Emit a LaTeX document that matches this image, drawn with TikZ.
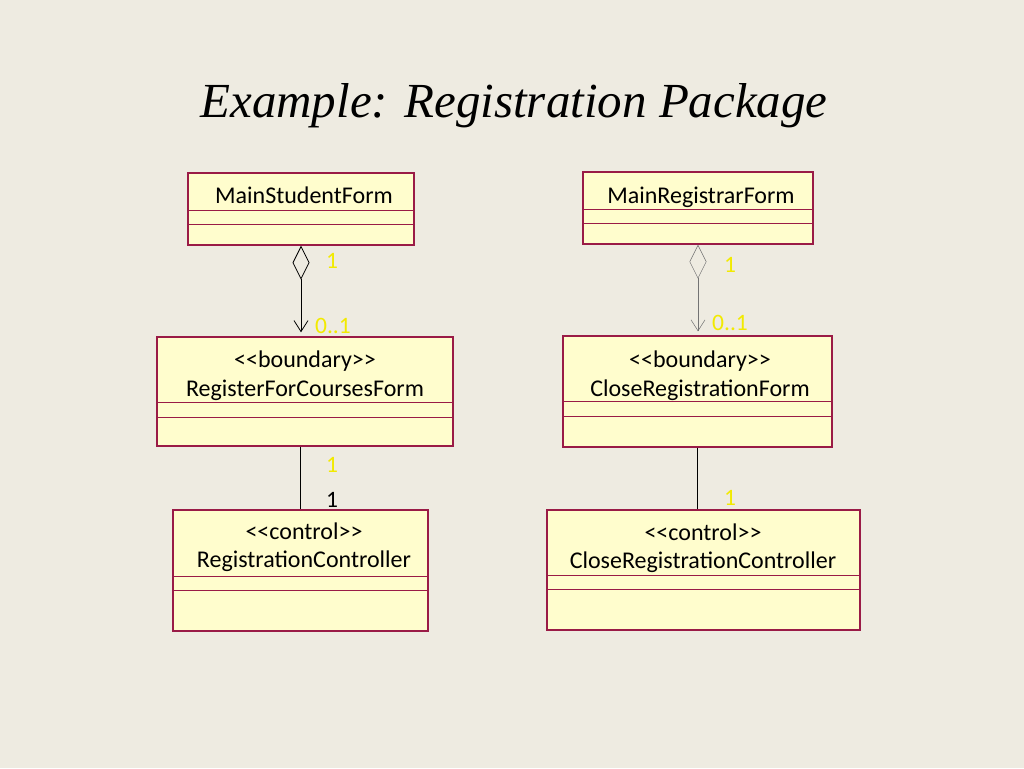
\documentclass[tikz,border=0pt]{standalone}
\usepackage{fontspec}
\newfontfamily\umlfont{Carlito}
\newfontfamily\titlefont{Liberation Serif}
\usepackage{tikz}
\usetikzlibrary{arrows.meta, positioning, calc}

\definecolor{bgpaper}{HTML}{EEEBE1}
\definecolor{boxfill}{HTML}{FFFDCD}
\definecolor{boxline}{HTML}{9A1B46}
\definecolor{multcol}{HTML}{F2EA00}

\tikzset{
  umlclass/.style={draw=boxline, fill=boxfill, line width=1.4pt, inner sep=0pt},
  divider/.style={boxline, line width=1.4pt},
  classname/.style={font=\umlfont\fontsize{24}{29}\selectfont, align=center, inner sep=0pt},
  mult/.style={font=\umlfont\fontsize{23.5}{26}\selectfont, text=multcol, inner sep=0pt},
  multdark/.style={font=\umlfont\fontsize{23.5}{26}\selectfont, text=black, inner sep=0pt},
  aggr/.style={line width=0.8pt, {Diamond[open, length=34pt, width=17pt]}-{Straight Barb[length=11pt, width=14pt]}, shorten >=4pt},
  assoc/.style={line width=0.9pt}
}

\begin{document}
\begin{tikzpicture}[x=1pt, y=-1pt]
            % Background
            \fill[bgpaper] (0,0) rectangle (1024,768);
            
            % Title
            \node[font=\titlefont\itshape\fontsize{49}{56}\selectfont] (title) at (514,106) {Example: Registration Package};
            
            % Left column classes
            \node[umlclass, minimum width=226pt, minimum height=72pt] (msf) at (301,209) {};
            \draw[divider] ([yshift=-38pt]msf.north west) -- ([yshift=-38pt]msf.north east);
            \draw[divider] ([yshift=-52pt]msf.north west) -- ([yshift=-52pt]msf.north east);
            \node[classname] (msf name) at (304,195) {MainStudentForm};
            
            \node[umlclass, minimum width=296pt, minimum height=109pt] (rfc) at (305,391.5) {};
            \draw[divider] ([yshift=-66pt]rfc.north west) -- ([yshift=-66pt]rfc.north east);
            \draw[divider] ([yshift=-81pt]rfc.north west) -- ([yshift=-81pt]rfc.north east);
            \node[classname] (rfc name) at (305,375.5) {<<boundary>>\\RegisterForCoursesForm};
            
            \node[umlclass, minimum width=255pt, minimum height=121pt] (rc) at (300.5,570.5) {};
            \draw[divider] ([yshift=-67pt]rc.north west) -- ([yshift=-67pt]rc.north east);
            \draw[divider] ([yshift=-81pt]rc.north west) -- ([yshift=-81pt]rc.north east);
            \node[classname, font=\umlfont\fontsize{24}{28}\selectfont] (rc name) at (304,547) {<<control>>\\RegistrationController};
            
            % Right column classes
            \node[umlclass, minimum width=230pt, minimum height=72pt] (mrf) at (698,208) {};
            \draw[divider] ([yshift=-38pt]mrf.north west) -- ([yshift=-38pt]mrf.north east);
            \draw[divider] ([yshift=-52pt]mrf.north west) -- ([yshift=-52pt]mrf.north east);
            \node[classname] (mrf name) at (701,197) {MainRegistrarForm};
            
            \node[umlclass, minimum width=269pt, minimum height=111pt] (crf) at (697.5,391.5) {};
            \draw[divider] ([yshift=-66pt]crf.north west) -- ([yshift=-66pt]crf.north east);
            \draw[divider] ([yshift=-81pt]crf.north west) -- ([yshift=-81pt]crf.north east);
            \node[classname] (crf name) at (700,376) {<<boundary>>\\CloseRegistrationForm};
            
            \node[umlclass, minimum width=313pt, minimum height=120pt] (crc) at (703.5,570) {};
            \draw[divider] ([yshift=-66pt]crc.north west) -- ([yshift=-66pt]crc.north east);
            \draw[divider] ([yshift=-80pt]crc.north west) -- ([yshift=-80pt]crc.north east);
            \node[classname, font=\umlfont\fontsize{24}{28}\selectfont] (crc name) at (703,548) {<<control>>\\CloseRegistrationController};
            
            % Aggregations
            \draw[aggr, black] (msf.south) -- (msf.south |- rfc.north);
            \draw[aggr, black!55, line width=0.5pt] (mrf.south) -- (mrf.south |- crf.north);
            
            % Associations
            \draw[assoc] (rc.north |- rfc.south) -- (rc.north);
            \draw[assoc] (crf.south) -- (crf.south |- crc.north);
            
            % Multiplicities
            \node[mult] (m1) at (332,261) {1};
            \node[mult] (m2) at (333,326) {0..1};
            \node[mult] (m3) at (730,265) {1};
            \node[mult] (m4) at (730,323) {0..1};
            \node[mult] (m5) at (332,465) {1};
            \node[multdark] (m6) at (332,500) {1};
            \node[mult] (m7) at (730,498) {1};
\end{tikzpicture}
\end{document}
